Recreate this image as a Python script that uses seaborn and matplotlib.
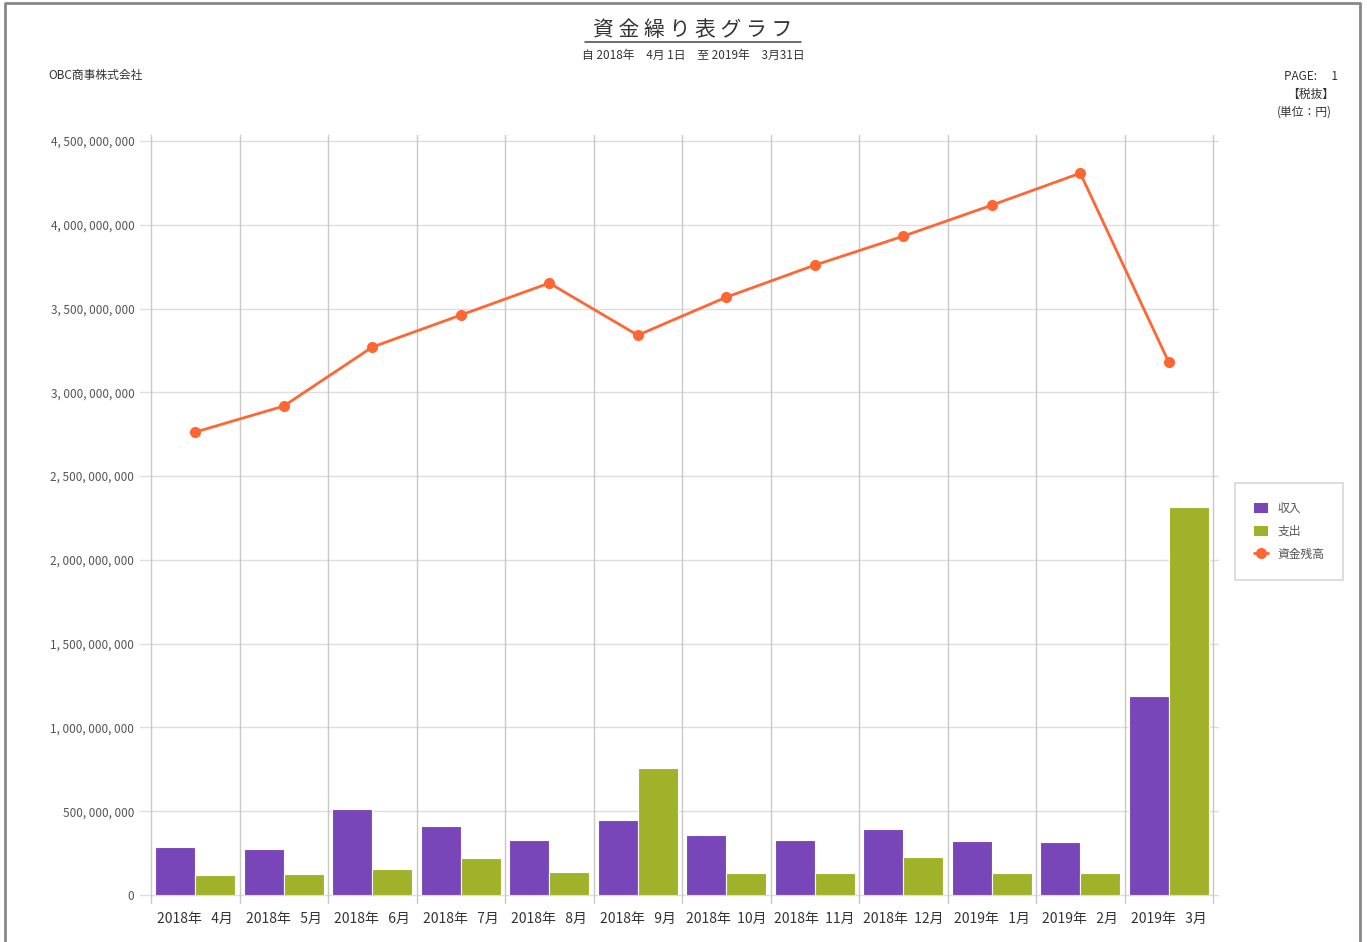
import numpy as np
import pandas as pd
import matplotlib
matplotlib.use('Agg')
import matplotlib.pyplot as plt
import seaborn as sns
from matplotlib.lines import Line2D
from matplotlib.patches import Patch
from matplotlib.ticker import FuncFormatter

# 月ラベル
years = [2018] * 9 + [2019] * 3
months = [4, 5, 6, 7, 8, 9, 10, 11, 12, 1, 2, 3]
month_labels = [f'{y}年   {m}月' if m < 10 else f'{y}年  {m}月' for y, m in zip(years, months)]

# 金額（円）
income = [286e6, 274e6, 513e6, 412e6, 328e6, 447e6, 358e6, 328e6, 394e6, 322e6, 316e6, 1187e6]
expense = [119e6, 125e6, 155e6, 220e6, 137e6, 758e6, 131e6, 131e6, 227e6, 131e6, 131e6, 2315e6]
balance = [2763e6, 2918e6, 3270e6, 3461e6, 3652e6, 3341e6, 3568e6, 3759e6, 3932e6, 4117e6, 4308e6, 3180e6]

c_income = '#7846b8'
c_expense = '#a0b22a'
c_balance = '#ff6633'
text_c = '#333333'

sns.set_style('white')
plt.rcParams['font.family'] = ['Noto Sans CJK JP', 'DejaVu Sans']

W, H = 1367, 942
fig = plt.figure(figsize=(W / 100, H / 100), dpi=100)
ax = fig.add_axes([151 / W, 1 - 895 / H, (1213 - 151) / W, (895 - 141) / H])

df = pd.DataFrame({
    '月': month_labels * 2,
    '種別': ['収入'] * 12 + ['支出'] * 12,
    '金額': income + expense,
})
sns.barplot(data=df, x='月', y='金額', hue='種別', palette=[c_income, c_expense],
            width=0.9, saturation=1, edgecolor='white', linewidth=0.8,
            legend=False, ax=ax, zorder=3)
sns.lineplot(x=np.arange(12), y=balance, color=c_balance, marker='o', markersize=8,
             markeredgewidth=0, linewidth=2, ax=ax, zorder=4)

ax.set_xlim(-0.5, 11.5)
ax.set_ylim(0, 4.5e9)
ax.set_yticks(np.arange(0, 4.5e9 + 1, 5e8))
ax.yaxis.set_major_formatter(FuncFormatter(lambda v, p: f'{int(v):,}'.replace(',', ', ')))
ax.set_xlabel('')
ax.set_ylabel('')
for s in ax.spines.values():
    s.set_visible(False)

# グリッド
for v in np.arange(0, 4.5e9 + 1, 5e8):
    ax.axhline(v, xmin=-0.01, xmax=1.005, color='#dddddd', lw=1, clip_on=False, zorder=1)
for b in np.arange(-0.5, 12, 1):
    ax.axvline(b, ymin=-0.01, ymax=1.008, color='#c8c8c8', lw=1, clip_on=False, zorder=1)

ax.tick_params(axis='y', length=0, pad=12, labelsize=8.5, labelcolor='#555555')
ax.tick_params(axis='x', length=0, pad=12, labelsize=10, labelcolor=text_c)

# 凡例
handles = [
    Patch(facecolor=c_income, edgecolor='none'),
    Patch(facecolor=c_expense, edgecolor='none'),
    Line2D([], [], color=c_balance, marker='o', markersize=8, lw=2, markeredgewidth=0),
]
leg = fig.legend(handles, ['収入', '支出', '資金残高'], loc='upper left',
                 bbox_to_anchor=(1235 / W, 1 - 483 / H), frameon=True, fancybox=False,
                 fontsize=8.5, handlelength=1.2, handleheight=1.0, borderpad=1.6,
                 labelspacing=0.85, borderaxespad=0, labelcolor='#555555')
leg.get_frame().set_edgecolor('#cccccc')
leg.get_frame().set_linewidth(1.2)

# 見出し
fig.text(693 / W, 1 - 30 / H, '資 金 繰 り 表 グ ラ フ', ha='center', va='center',
         fontsize=15, color=text_c)
fig.add_artist(Line2D([585 / W, 801 / W], [1 - 42 / H, 1 - 42 / H], transform=fig.transFigure,
                      color='#555555', lw=1.2))
fig.text(693 / W, 1 - 55 / H, '自 2018年　4月 1日　至 2019年　3月31日', ha='center', va='center',
         fontsize=8.5, color=text_c)
fig.text(48 / W, 1 - 76 / H, 'OBC商事株式会社', ha='left', va='center', fontsize=8.5, color=text_c)
fig.text(1338 / W, 1 - 76 / H, 'PAGE:　 1', ha='right', va='center', fontsize=8.5, color=text_c)
fig.text(1334 / W, 1 - 94 / H, '【税抜】', ha='right', va='center', fontsize=8.5, color=text_c)
fig.text(1332 / W, 1 - 112 / H, '(単位：円)', ha='right', va='center', fontsize=8.5, color=text_c)

# 外枠
fig.add_artist(Line2D([5 / W, 5 / W, 1360 / W, 1360 / W], [0, 1 - 3 / H, 1 - 3 / H, 0],
                      transform=fig.transFigure, color='#888888', lw=2))

fig.savefig('out.png', dpi=100, facecolor='white')
